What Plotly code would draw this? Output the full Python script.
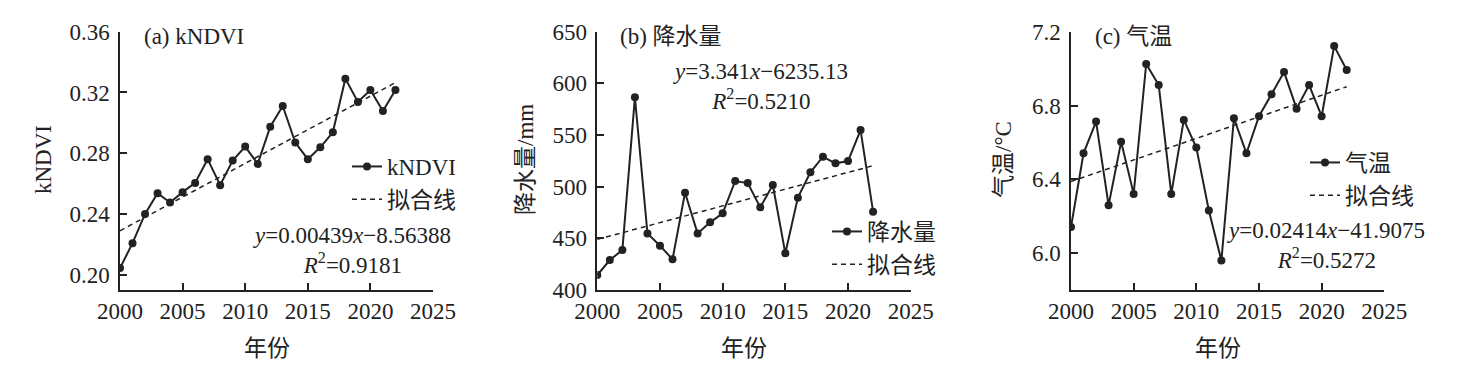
import plotly.graph_objects as go

years = list(range(2000, 2023))
kndvi = [0.2044, 0.2208, 0.2401, 0.2537, 0.2476, 0.2544, 0.2605, 0.2761, 0.2590, 0.2752,
         0.2844, 0.2730, 0.2975, 0.3111, 0.2870, 0.2761, 0.2839, 0.2938, 0.3291, 0.3138,
         0.3216, 0.3078, 0.3216]
precip = [414.5, 429.0, 438.7, 586.5, 454.8, 442.9, 429.7, 494.2, 454.8, 465.5,
          474.2, 505.5, 503.5, 480.0, 501.6, 435.5, 489.4, 513.9, 529.0, 522.6,
          524.8, 554.8, 475.8]
temp = [6.141, 6.541, 6.713, 6.260, 6.603, 6.321, 7.025, 6.911, 6.321, 6.722,
        6.572, 6.231, 5.960, 6.731, 6.541, 6.742, 6.861, 6.982, 6.783, 6.911,
        6.742, 7.122, 6.992]
fit_years = [2000, 2022]
fit_kndvi = [0.229, 0.3265]
fit_precip = [449.0, 520.3]
fit_temp = [6.388, 6.902]

series_names = ["kNDVI", "降水量", "气温"]
fit_name = "拟合线"
panel_titles = ["(a) kNDVI", "(b) 降水量", "(c) 气温"]
y_titles = ["kNDVI", "降水量/mm", "气温/°C"]
x_title = "年份"
equations = ["<i>y</i>=0.00439<i>x</i>−8.56388<br><i>R</i><sup>2</sup>=0.9181",
             "<i>y</i>=3.341<i>x</i>−6235.13<br><i>R</i><sup>2</sup>=0.5210",
             "<i>y</i>=0.02414<i>x</i>−41.9075<br><i>R</i><sup>2</sup>=0.5272"]
y_ranges = [[0.19, 0.36], [400, 650], [5.8, 7.2]]
y_ticks = [[0.20, 0.24, 0.28, 0.32, 0.36], [400, 450, 500, 550, 600, 650], [6.0, 6.4, 6.8, 7.2]]
y_ticktext = [["0.20", "0.24", "0.28", "0.32", "0.36"],
              ["400", "450", "500", "550", "600", "650"],
              ["6.0", "6.4", "6.8", "7.2"]]
x_ticks = [2000, 2005, 2010, 2015, 2020, 2025]

# page body has an 8px default margin; lay out in window pixels and shift
OFF = 8
W, H = 1473 - OFF, 377 - OFF
FONT = "Liberation Serif, 'Noto Sans CJK SC', serif"
INK = "#222222"
FS = 23


def px_x(p):
    return (p - OFF) / W


def px_y(p):
    return 1 - (p - OFF) / H


x_px = [(120, 433), (597.3, 910.7), (1071, 1384.3)]
y_px = (31.7, 290)
data_sets = [(kndvi, fit_kndvi), (precip, fit_precip), (temp, fit_temp)]
legend_pos = [(347, 162), (827, 227), (1305, 158)]
eq_pos = [(352, 250), (760, 87), (1326, 246)]
title_pos = [142, 618, 1093]
ytitle_x = [43, 525, 1003]

fig = go.Figure()
for i in range(3):
    ax = "" if i == 0 else str(i + 1)
    lg = "legend" if i == 0 else f"legend{i + 1}"
    vals, fitv = data_sets[i]
    fig.add_trace(go.Scatter(
        x=years, y=vals, mode="lines+markers", name=series_names[i],
        line=dict(color=INK, width=2), marker=dict(color=INK, size=8),
        xaxis="x" + ax, yaxis="y" + ax, legend=lg))
    fig.add_trace(go.Scatter(
        x=fit_years, y=fitv, mode="lines", name=fit_name,
        line=dict(color=INK, width=1.5, dash="5px,4px"),
        xaxis="x" + ax, yaxis="y" + ax, legend=lg))
    x0, x1 = x_px[i]
    common = dict(showline=True, linecolor=INK, linewidth=1.5, ticks="inside", ticklen=7,
                  tickwidth=1.5, tickcolor=INK, showgrid=False, zeroline=False,
                  automargin=False, tickfont=dict(family=FONT, size=FS, color=INK))
    fig.layout["xaxis" + ax] = dict(
        domain=[px_x(x0), px_x(x1)], range=[2000, 2025], tickvals=x_ticks,
        anchor="y" + ax, ticklabelstandoff=0, **common)
    fig.layout["yaxis" + ax] = dict(
        domain=[px_y(y_px[1]), px_y(y_px[0])], range=y_ranges[i],
        tickvals=y_ticks[i], ticktext=y_ticktext[i], anchor="x" + ax,
        ticklabelstandoff=4, **common)
    lx, ly = legend_pos[i]
    fig.layout[lg] = dict(x=px_x(lx), y=px_y(ly - 17), xanchor="left", yanchor="top",
                          bgcolor="rgba(0,0,0,0)", font=dict(family=FONT, size=FS, color=INK),
                          itemwidth=30, tracegroupgap=0)
    ex, ey = eq_pos[i]
    fig.add_annotation(x=px_x(ex), y=px_y(ey), xref="paper", yref="paper", text=equations[i],
                       showarrow=False, align="center", xanchor="center", yanchor="middle",
                       font=dict(family=FONT, size=FS, color=INK))
    fig.add_annotation(x=px_x(title_pos[i]), y=px_y(37), xref="paper", yref="paper",
                       text=panel_titles[i], showarrow=False, xanchor="left", yanchor="middle",
                       font=dict(family=FONT, size=FS, color=INK))
    fig.add_annotation(x=px_x(ytitle_x[i]), y=px_y(160), xref="paper", yref="paper",
                       text=y_titles[i], showarrow=False, textangle=-90, xanchor="center",
                       yanchor="middle", font=dict(family=FONT, size=FS, color=INK))
    fig.add_annotation(x=px_x((x0 + x1) / 2 - 10), y=px_y(348), xref="paper", yref="paper",
                       text=x_title, showarrow=False, xanchor="center", yanchor="middle",
                       font=dict(family=FONT, size=FS, color=INK))

fig.update_layout(width=W, height=H, margin=dict(l=0, r=0, t=0, b=0, autoexpand=False),
                  paper_bgcolor="white", plot_bgcolor="white", showlegend=True)
fig.write_html("out.html")
